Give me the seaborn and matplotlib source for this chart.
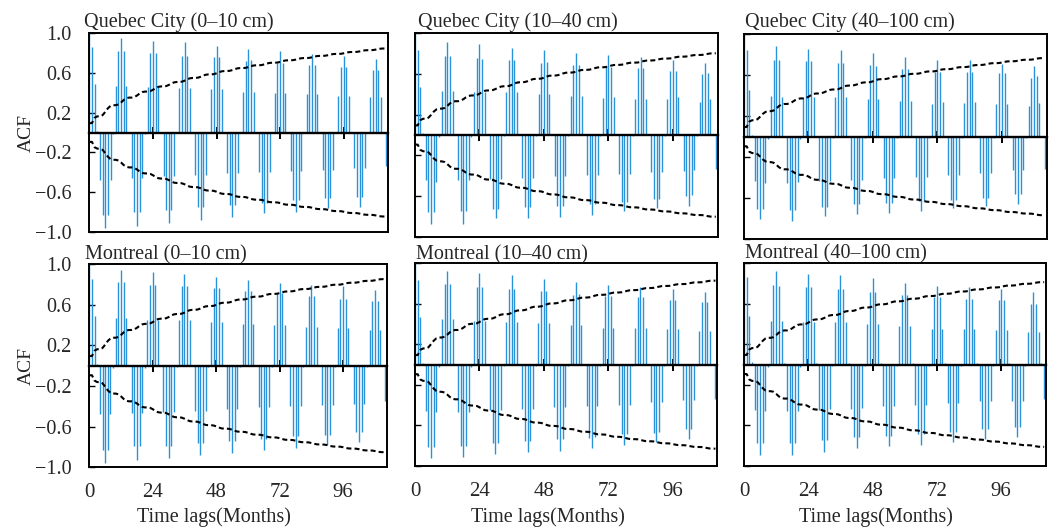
import numpy as np
import matplotlib
matplotlib.use("Agg")
import matplotlib.pyplot as plt
import seaborn as sns

# ---------------- data ----------------
lags = np.arange(113)

acf_quebec_0_10 = [
    1.00, 0.86, 0.49, 0.02, -0.48, -0.83, -0.96, -0.83, -0.48, -0.02, 0.47, 0.82,
    0.95, 0.82, 0.47, 0.01, -0.46, -0.80, -0.94, -0.80, -0.46, -0.02, 0.46, 0.80,
    0.92, 0.80, 0.46, 0.01, -0.44, -0.78, -0.91, -0.78, -0.44, -0.01, 0.45, 0.77,
    0.91, 0.77, 0.45, 0.01, -0.43, -0.75, -0.88, -0.75, -0.43, -0.01, 0.44, 0.76,
    0.87, 0.76, 0.44, 0.01, -0.41, -0.73, -0.85, -0.73, -0.41, -0.01, 0.41, 0.72,
    0.84, 0.73, 0.41, 0.01, -0.40, -0.71, -0.81, -0.71, -0.40, -0.01, 0.40, 0.70,
    0.82, 0.70, 0.40, 0.01, -0.39, -0.68, -0.80, -0.68, -0.39, -0.01, 0.39, 0.68,
    0.79, 0.68, 0.39, 0.01, -0.38, -0.66, -0.76, -0.66, -0.38, -0.01, 0.37, 0.66,
    0.77, 0.66, 0.37, 0.01, -0.36, -0.65, -0.75, -0.65, -0.36, -0.01, 0.36, 0.63,
    0.74, 0.63, 0.36, 0.01, -0.34,
]
acf_quebec_10_40 = [
    1.00, 0.84, 0.47, 0.02, -0.44, -0.76, -0.88, -0.76, -0.46, -0.02, 0.43, 0.78,
    0.91, 0.78, 0.43, 0.01, -0.44, -0.75, -0.88, -0.75, -0.44, -0.02, 0.42, 0.76,
    0.89, 0.75, 0.42, 0.01, -0.43, -0.73, -0.82, -0.73, -0.43, -0.01, 0.42, 0.74,
    0.86, 0.74, 0.42, 0.01, -0.42, -0.71, -0.82, -0.71, -0.42, -0.01, 0.40, 0.71,
    0.84, 0.72, 0.40, 0.01, -0.40, -0.70, -0.81, -0.70, -0.40, -0.01, 0.38, 0.69,
    0.81, 0.69, 0.38, 0.01, -0.39, -0.68, -0.79, -0.68, -0.39, -0.01, 0.36, 0.67,
    0.79, 0.67, 0.37, 0.01, -0.38, -0.66, -0.75, -0.66, -0.38, -0.01, 0.35, 0.66,
    0.77, 0.66, 0.35, 0.01, -0.36, -0.63, -0.72, -0.63, -0.36, -0.01, 0.35, 0.63,
    0.74, 0.63, 0.37, 0.01, -0.35, -0.60, -0.70, -0.59, -0.34, -0.01, 0.32, 0.60,
    0.71, 0.61, 0.35, 0.01, -0.33,
]
acf_quebec_40_100 = [
    1.00, 0.85, 0.46, 0.02, -0.43, -0.71, -0.80, -0.71, -0.45, -0.02, 0.40, 0.75,
    0.89, 0.75, 0.39, 0.01, -0.45, -0.72, -0.82, -0.72, -0.44, -0.02, 0.39, 0.74,
    0.86, 0.74, 0.39, 0.01, -0.43, -0.69, -0.78, -0.69, -0.43, -0.01, 0.39, 0.72,
    0.85, 0.72, 0.39, 0.01, -0.42, -0.66, -0.76, -0.66, -0.42, -0.01, 0.37, 0.70,
    0.82, 0.69, 0.37, 0.01, -0.40, -0.65, -0.75, -0.65, -0.40, -0.01, 0.35, 0.66,
    0.78, 0.66, 0.35, 0.01, -0.39, -0.63, -0.73, -0.63, -0.39, -0.01, 0.32, 0.63,
    0.75, 0.63, 0.34, 0.01, -0.37, -0.62, -0.70, -0.62, -0.37, -0.01, 0.33, 0.63,
    0.75, 0.63, 0.34, 0.01, -0.36, -0.60, -0.68, -0.60, -0.36, -0.01, 0.32, 0.62,
    0.71, 0.62, 0.32, 0.01, -0.33, -0.56, -0.66, -0.56, -0.33, -0.01, 0.30, 0.57,
    0.69, 0.59, 0.33, 0.01, -0.32,
]
acf_montreal_0_10 = [
    1.00, 0.85, 0.49, 0.02, -0.48, -0.83, -0.96, -0.83, -0.48, -0.02, 0.47, 0.82,
    0.94, 0.82, 0.47, 0.01, -0.47, -0.79, -0.93, -0.79, -0.47, -0.02, 0.45, 0.79,
    0.92, 0.79, 0.45, 0.01, -0.46, -0.79, -0.91, -0.79, -0.46, -0.01, 0.45, 0.78,
    0.90, 0.78, 0.45, 0.01, -0.45, -0.76, -0.88, -0.76, -0.45, -0.01, 0.43, 0.76,
    0.87, 0.76, 0.43, 0.01, -0.43, -0.74, -0.86, -0.74, -0.43, -0.01, 0.41, 0.73,
    0.84, 0.73, 0.41, 0.01, -0.41, -0.72, -0.83, -0.72, -0.41, -0.01, 0.40, 0.71,
    0.81, 0.71, 0.40, 0.01, -0.40, -0.69, -0.81, -0.69, -0.40, -0.01, 0.38, 0.69,
    0.79, 0.69, 0.38, 0.01, -0.39, -0.68, -0.78, -0.68, -0.39, -0.01, 0.37, 0.66,
    0.78, 0.66, 0.37, 0.01, -0.38, -0.65, -0.75, -0.65, -0.38, -0.01, 0.35, 0.64,
    0.74, 0.64, 0.35, 0.01, -0.35,
]
acf_montreal_10_40 = [
    1.00, 0.84, 0.47, 0.02, -0.46, -0.81, -0.92, -0.81, -0.47, -0.02, 0.45, 0.80,
    0.92, 0.80, 0.45, 0.01, -0.47, -0.80, -0.91, -0.80, -0.47, -0.02, 0.43, 0.77,
    0.90, 0.77, 0.43, 0.01, -0.45, -0.77, -0.88, -0.77, -0.45, -0.01, 0.42, 0.75,
    0.88, 0.75, 0.42, 0.01, -0.44, -0.75, -0.86, -0.75, -0.44, -0.01, 0.41, 0.73,
    0.85, 0.73, 0.41, 0.01, -0.42, -0.73, -0.85, -0.73, -0.42, -0.01, 0.39, 0.69,
    0.82, 0.70, 0.39, 0.01, -0.41, -0.72, -0.82, -0.71, -0.41, -0.01, 0.36, 0.68,
    0.79, 0.68, 0.36, 0.01, -0.40, -0.68, -0.79, -0.68, -0.40, -0.01, 0.36, 0.67,
    0.77, 0.67, 0.36, 0.01, -0.37, -0.67, -0.76, -0.66, -0.37, -0.01, 0.35, 0.64,
    0.75, 0.64, 0.35, 0.01, -0.35, -0.63, -0.73, -0.63, -0.35, -0.01, 0.33, 0.62,
    0.72, 0.62, 0.33, 0.01, -0.34,
]
acf_montreal_40_100 = [
    1.00, 0.86, 0.48, 0.02, -0.45, -0.78, -0.89, -0.78, -0.46, -0.02, 0.43, 0.79,
    0.92, 0.78, 0.43, 0.01, -0.46, -0.78, -0.89, -0.78, -0.46, -0.02, 0.42, 0.77,
    0.89, 0.77, 0.42, 0.01, -0.45, -0.75, -0.86, -0.75, -0.44, -0.01, 0.42, 0.75,
    0.88, 0.75, 0.42, 0.01, -0.44, -0.72, -0.83, -0.72, -0.43, -0.01, 0.40, 0.72,
    0.85, 0.72, 0.40, 0.01, -0.41, -0.71, -0.81, -0.71, -0.41, -0.01, 0.38, 0.69,
    0.81, 0.69, 0.38, 0.01, -0.40, -0.69, -0.80, -0.69, -0.40, -0.01, 0.35, 0.67,
    0.78, 0.67, 0.35, 0.01, -0.38, -0.67, -0.77, -0.67, -0.38, -0.01, 0.35, 0.65,
    0.77, 0.65, 0.35, 0.01, -0.36, -0.64, -0.74, -0.64, -0.36, -0.01, 0.34, 0.64,
    0.75, 0.64, 0.34, 0.01, -0.36, -0.62, -0.72, -0.62, -0.36, -0.01, 0.32, 0.60,
    0.72, 0.60, 0.32, 0.01, -0.34,
]

panel_titles = [
    "Quebec City (0\u201310 cm)", "Quebec City (10\u201340 cm)", "Quebec City (40\u2013100 cm)",
    "Montreal (0\u201310 cm)", "Montreal (10\u201340 cm)", "Montreal (40\u2013100 cm)",
]
panel_acfs = [acf_quebec_0_10, acf_quebec_10_40, acf_quebec_40_100,
              acf_montreal_0_10, acf_montreal_10_40, acf_montreal_40_100]
n_months = 430          # effective series length used for the Bartlett band
xtick_values = [0, 24, 48, 72, 96]
ytick_values = [-1.0, -0.6, -0.2, 0.2, 0.6, 1.0]
ytick_labels = ["\u22121.0", "\u22120.6", "\u22120.2", "0.2", "0.6", "1.0"]
y_label = "ACF"
x_label = "Time lags(Months)"


def bartlett_band(acf, n):
    r = np.asarray(acf, dtype=float)
    var = np.ones(len(r)) / n
    var[2:] *= 1 + 2 * np.cumsum(r[1:-1] ** 2)
    return 1.96 * np.sqrt(var)


# ---------------- style ----------------
sns.set_style("white")
plt.rcParams["font.family"] = ["Liberation Serif", "DejaVu Serif"]
plt.rcParams["axes.unicode_minus"] = True

W, H = 1052, 529
fig = plt.figure(figsize=(W / 100, H / 100), dpi=100)

# axes boxes in pixels: left, right, top, bottom
boxes = [
    (89.3, 388.0, 33.3, 231.7),
    (415.0, 717.7, 33.3, 236.7),
    (744.0, 1046.7, 34.3, 239.0),
    (89.3, 387.3, 264.0, 467.3),
    (415.0, 717.3, 263.3, 466.0),
    (744.0, 1046.0, 263.3, 465.7),
]
title_pos = [(83.5, 27.0), (418.0, 27.0), (745.0, 27.3),
             (85.0, 259.5), (415.5, 259.5), (745.0, 258.5)]
xlabel_centers = [214, 548, 876]

BAR = "#2a92d8"

for i, (acf, title, (l, r, t, b)) in enumerate(zip(panel_acfs, panel_titles, boxes)):
    ax = fig.add_axes([l / W, 1 - b / H, (r - l) / W, (b - t) / H])
    ax.set_facecolor("white")
    band = bartlett_band(acf, n_months)

    ax.vlines(lags, 0, acf, colors=BAR, linewidth=1.0, zorder=2)
    sns.lineplot(x=lags, y=band, ax=ax, color="black", linewidth=1.5, zorder=3)
    sns.lineplot(x=lags, y=-band, ax=ax, color="black", linewidth=1.5, zorder=3)
    for ln in ax.lines:
        ln.set_dashes((2.4, 1.5))

    ax.set_xlim(0, 112.7)
    ax.set_ylim(-1, 1)

    for s in ["top", "left", "right"]:
        ax.spines[s].set_visible(True)
        ax.spines[s].set_color("black")
        ax.spines[s].set_linewidth(1.4)
    ax.spines["bottom"].set_position(("data", 0))
    ax.spines["bottom"].set_linewidth(1.7)
    ax.spines["bottom"].set_color("black")
    ax.spines["bottom"].set_zorder(4)

    ax.set_xticks(xtick_values[1:])
    ax.tick_params(axis="x", direction="inout", length=8, width=1.4,
                   color="black", bottom=True, labelbottom=False)
    ax.set_yticks(ytick_values)
    ax.set_yticklabels(ytick_labels)
    ax.tick_params(axis="y", direction="in", length=4, width=1.0, color="black",
                   left=True, pad=12.5, labelsize=14.5, labelleft=(i % 3 == 0))
    ax.set_xlabel("")
    ax.set_ylabel("")

    sec = ax.secondary_xaxis("bottom")
    sec.set_xticks(xtick_values)
    sec.spines["bottom"].set_linewidth(1.4)
    sec.spines["bottom"].set_color("black")
    sec.tick_params(axis="x", length=0, pad=11.5, labelsize=15,
                    labelbottom=(i >= 3))

    tx, ty = title_pos[i]
    fig.text(tx / W, 1 - ty / H, title, ha="left", va="baseline", fontsize=14.5)

for yc in [132.5, 365.7]:
    fig.text(26 / W, 1 - yc / H, y_label, rotation=90, ha="center", va="center",
             fontsize=14)
for xc in xlabel_centers:
    fig.text(xc / W, 1 - 521.7 / H, x_label, ha="center", va="baseline",
             fontsize=14.5)

fig.savefig("out.png", dpi=100)
